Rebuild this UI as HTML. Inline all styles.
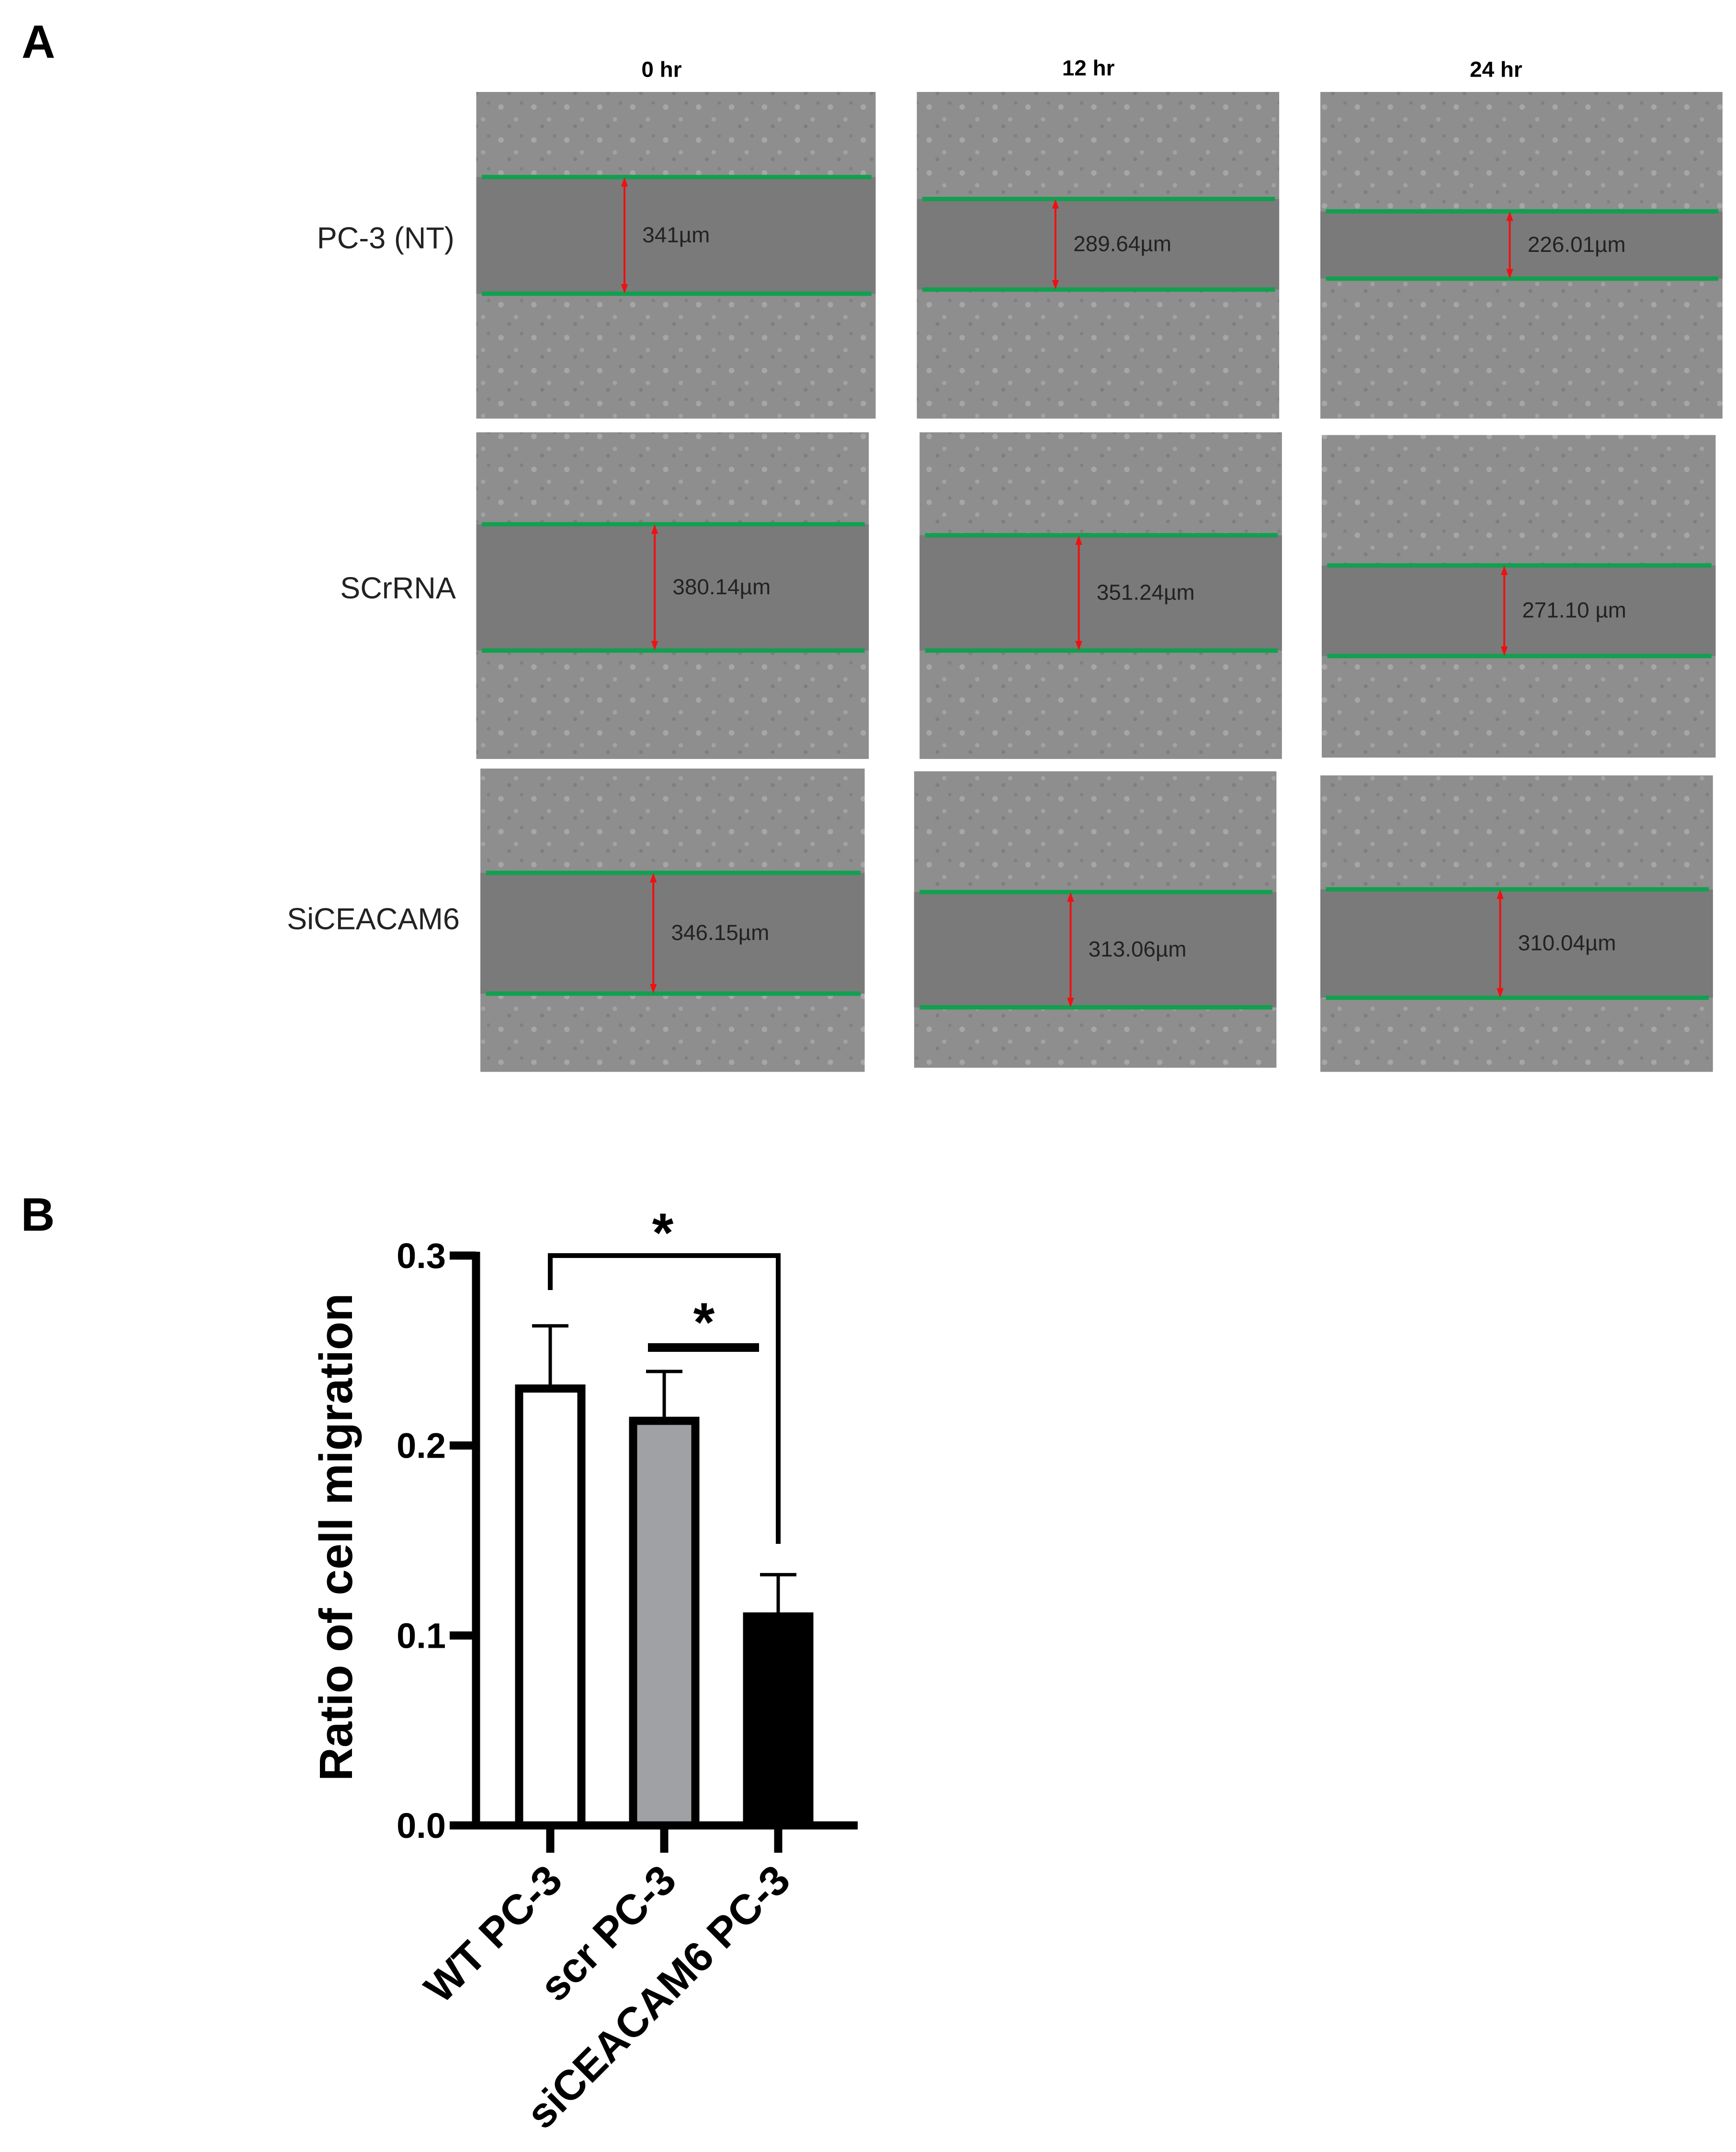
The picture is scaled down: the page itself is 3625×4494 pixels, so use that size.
<!DOCTYPE html>
<html><head><meta charset="utf-8"><style>
html,body{margin:0;padding:0;background:#fff;}
svg{display:block;}
</style></head><body>
<svg id="fig" xmlns="http://www.w3.org/2000/svg" width="3625" height="4494" viewBox="0 0 3625 4494">
<defs>
<pattern id="cells" width="24" height="24" patternUnits="userSpaceOnUse">
<rect width="24" height="24" fill="#8e8e8e"/>
<circle cx="5" cy="6" r="2" fill="#a6a6a6"/><circle cx="16" cy="15" r="1.6" fill="#a2a2a2"/><circle cx="11" cy="20" r="1.4" fill="#7e7e7e"/><circle cx="20" cy="3" r="1.3" fill="#808080"/>
</pattern>
</defs>
<g transform="scale(2.866)">
<text x="28" y="42" font-family="Liberation Sans, sans-serif" font-weight="bold" font-size="34" text-anchor="middle">A</text>
<g font-family="Liberation Sans, sans-serif" font-weight="bold" font-size="16" text-anchor="middle">
<text x="482" y="56">0 hr</text>
<text x="793" y="55">12 hr</text>
<text x="1090" y="56">24 hr</text>
</g>
<g font-family="Liberation Sans, sans-serif" font-size="22" fill="#222" text-anchor="middle">
<text x="281" y="181">PC-3 (NT)</text>
<text x="290" y="436">SCrRNA</text>
<text x="272" y="677">SiCEACAM6</text>
</g>
<g id="photos"></g>
</g>
<g id="chart"></g>
</svg>
<script>
const NS='http://www.w3.org/2000/svg';
function mk(tag,attrs,parent){const e=document.createElementNS(NS,tag);for(const k in attrs)e.setAttribute(k,attrs[k]);parent.appendChild(e);return e;}
const photoBoxes=[[347,67,638,305],[668,67,932,305],[962,67,1255,305],[347,315,633,553],[670,315,934,553],[963,317,1250,552],[350,560,630,781],[666,562,930,778],[962,565,1248,781]];
const gapTop=[129,145,154,382,390,412,636,650,648];
const gapBot=[214,211,203,474,474,478,724,734,727];
const arrowX=[455,769,1100,477,786,1096,476,780,1093];
const widths=['341µm','289.64µm','226.01µm','380.14µm','351.24µm','271.10 µm','346.15µm','313.06µm','310.04µm'];
const photos=document.getElementById('photos');
for(let i=0;i<9;i++){
 const [x0,y0,x1,y1]=photoBoxes[i];
 const g=mk('g',{},photos);
 
 
 mk('rect',{x:x0,y:y0,width:x1-x0,height:y1-y0,fill:'url(#cells)'},g);
 mk('rect',{x:x0,y:gapTop[i],width:x1-x0,height:gapBot[i]-gapTop[i],fill:'#7a7a7a'},g);
 const l1=mk('line',{x1:x0+4,x2:x1-3,y1:gapTop[i],y2:gapTop[i],stroke:'#12a050','stroke-width':3.2},g);
 
 
 const l2=mk('line',{x1:x0+4,x2:x1-3,y1:gapBot[i],y2:gapBot[i],stroke:'#12a050','stroke-width':3.2},g);
 
 
 const ax=arrowX[i];
 mk('line',{x1:ax,x2:ax,y1:gapTop[i]+4,y2:gapBot[i]-4,stroke:'#f01010','stroke-width':1.4},g);
 mk('polygon',{points:`${ax},${gapTop[i]} ${ax-2.5},${gapTop[i]+7} ${ax+2.5},${gapTop[i]+7}`,fill:'#f01010'},g);
 mk('polygon',{points:`${ax},${gapBot[i]} ${ax-2.5},${gapBot[i]-7} ${ax+2.5},${gapBot[i]-7}`,fill:'#f01010'},g);
 const t=mk('text',{x:ax+13,y:(gapTop[i]+gapBot[i])/2+5,'font-family':'Liberation Sans, sans-serif','font-size':16,fill:'#222'},g);
 t.textContent=widths[i];
 
 
}
// Panel B chart data
const categories=['WT PC-3','scr PC-3','siCEACAM6 PC-3'];
const means=[0.230,0.213,0.110];
const errors=[0.033,0.026,0.022];
const yTicks=[0.0,0.1,0.2,0.3];
const tickLabels=['0.0','0.1','0.2','0.3'];
const fills=['#ffffff','#a0a1a4','#000000'];
const chart=document.getElementById('chart');
const X0=994,XEND=1791,Y0=3812,YTOP=2622,yMax=0.3;
const y=v=>Y0-(v/yMax)*(Y0-YTOP);
const xFirst=1149,xStep=238;
const xc=i=>xFirst+i*xStep;
const barW=130;
const F='Liberation Sans, sans-serif';
const B=mk('text',{x:79,y:2570,'font-family':F,'font-weight':'bold','font-size':98,'text-anchor':'middle'},chart);
B.textContent='B';


categories.forEach((c,i)=>{
 const cx=xc(i);
 const r=mk('rect',{x:cx-barW/2,y:y(means[i]),width:barW,height:Y0-y(means[i]),fill:fills[i],stroke:'#000','stroke-width':17},chart);
 
 
 const e=mk('path',{d:`M${cx},${y(means[i])} V${y(means[i]+errors[i])} M${cx-38},${y(means[i]+errors[i])} H${cx+38}`,stroke:'#000','stroke-width':7,fill:'none'},chart);
 
 
 const tk=mk('line',{x1:cx,x2:cx,y1:Y0,y2:Y0+57,stroke:'#000','stroke-width':17},chart);
 
 
 const lbl=mk('text',{x:0,y:0,'font-family':F,'font-weight':'bold','font-size':88,'text-anchor':'end',transform:`translate(${cx+30},${Y0+120}) rotate(-45)`},chart);
 lbl.textContent=c;
 
 
});
const ya=mk('line',{x1:X0,x2:X0,y1:YTOP-8,y2:Y0+8,stroke:'#000','stroke-width':17},chart);


const xa=mk('line',{x1:X0-8,x2:XEND,y1:Y0,y2:Y0,stroke:'#000','stroke-width':17},chart);


yTicks.forEach((v,i)=>{
 const t=mk('line',{x1:X0-55,x2:X0,y1:y(v),y2:y(v),stroke:'#000','stroke-width':17},chart);
 
 
 const l=mk('text',{x:931,y:y(v)+26,'font-family':F,'font-weight':'bold','font-size':74,'text-anchor':'end'},chart);
 l.textContent=tickLabels[i];
 
 
});
const yt=mk('text',{x:0,y:0,'font-family':F,'font-weight':'bold','font-size':97,'text-anchor':'middle',transform:'translate(735,3210) rotate(-90)'},chart);
yt.textContent='Ratio of cell migration';


const br=mk('path',{d:`M${xc(0)},2694 V2622 H1625 V3224`,stroke:'#000','stroke-width':10,fill:'none'},chart);


const sb=mk('line',{x1:1353,x2:1585,y1:2814,y2:2814,stroke:'#000','stroke-width':18},chart);


[[1384,2614],[1470,2801]].forEach(p=>{
 const s=mk('text',{x:p[0],y:p[1],'font-family':F,'font-weight':'bold','font-size':115,'text-anchor':'middle'},chart);
 s.textContent='*';
 
 
});
</script>
</body></html>
